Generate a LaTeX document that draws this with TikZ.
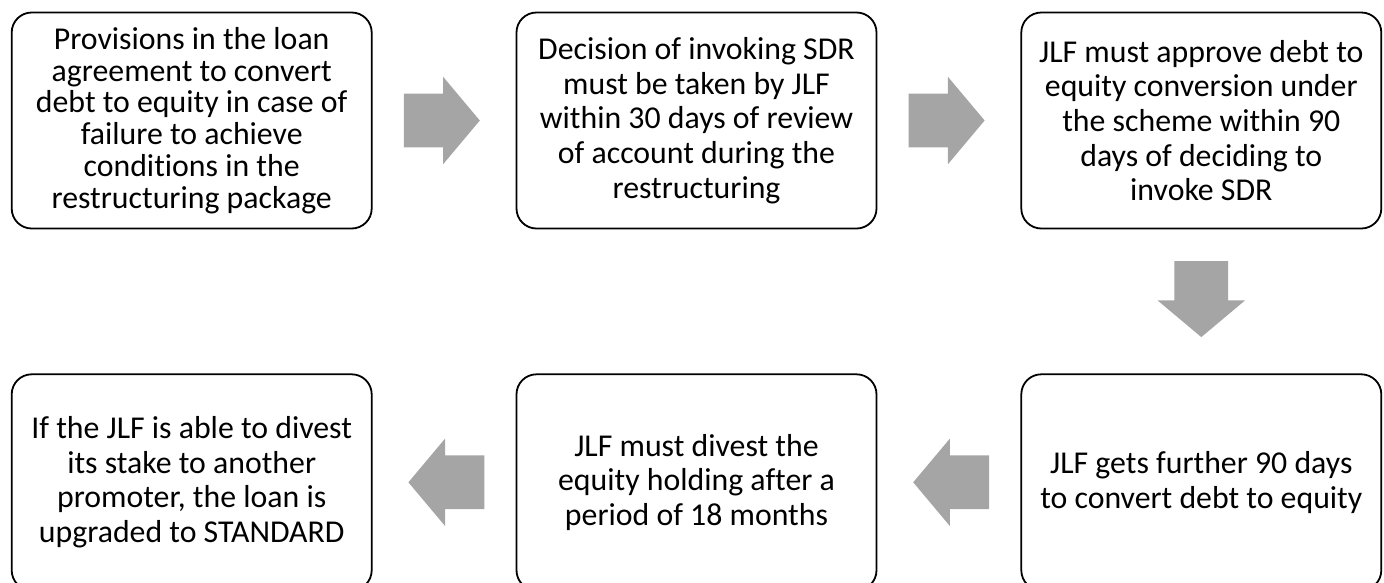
\documentclass[tikz,border=0pt]{standalone}
\usepackage{fontspec}
\setmainfont[Ligatures={NoCommon,NoRare,NoContextual}]{Carlito}
\usetikzlibrary{positioning, calc, shapes.arrows}
\definecolor{arrowgray}{HTML}{A5A5A5}

\begin{document}
\begin{tikzpicture}[
  x=1pt, y=1pt,
  node distance=144pt and 143pt,
  stepbox/.style={draw, line width=1.8pt, rounded corners=20pt, fill=white,
    minimum width=360pt, minimum height=216pt, align=center, inner sep=0pt,
    font=\fontsize{31.8}{34.7}\selectfont},
  blockarrow/.style={single arrow, fill=arrowgray, draw=none, anchor=tail,
    inner xsep=0pt, inner ysep=26.65pt, minimum height=76pt,
    single arrow head extend=16.8pt, single arrow tip angle=100},
  downarrow/.style={blockarrow, shape border rotate=270,
    inner xsep=26.65pt, inner ysep=0pt}
]
  \useasboundingbox (0,0) rectangle (1384,-582);

  % top row, left to right
  \node[stepbox, font=\fontsize{31.8}{31.7}\selectfont] (provisions) at (191.7,-120.5) {Provisions in the loan\\agreement to convert\\debt to equity in case of\\failure to achieve\\conditions in the\\restructuring package};
  \node[stepbox] (decision) [right=of provisions] {Decision of invoking SDR\\must be taken by JLF\\within 30 days of review\\of account during the\\restructuring};
  \node[stepbox] (approve) [right=of decision] {JLF must approve debt to\\equity conversion under\\the scheme within 90\\days of deciding to\\invoke SDR};

  % bottom row, right to left
  \node[stepbox] (further) [below=of approve] {JLF gets further 90 days\\to convert debt to equity};
  \node[stepbox] (divest) [left=of further] {JLF must divest the\\equity holding after a\\period of 18 months};
  \node[stepbox] (standard) [left=of divest] {If the JLF is able to divest\\its stake to another\\promoter, the loan is\\upgraded to STANDARD};

  % block arrows
  \node[blockarrow] (a1) at ($(provisions.east)+(31,0)$) {};
  \node[blockarrow] (a2) at ($(decision.east)+(31,0)$) {};
  \node[downarrow] (a3) at ($(approve.south)+(0,-31.5)$) {};
  \node[blockarrow, shape border rotate=180] (a4) at ($(further.west)+(-31,0)$) {};
  \node[blockarrow, shape border rotate=180] (a5) at ($(divest.west)+(-31,0)$) {};
\end{tikzpicture}
\end{document}
